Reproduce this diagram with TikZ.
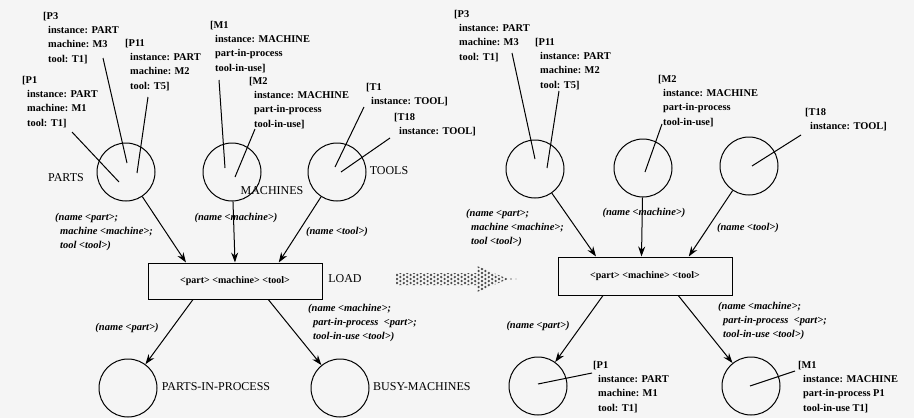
\documentclass[tikz,border=0pt]{standalone}
\usepackage{fontspec}
\setmainfont{Liberation Serif}
\usetikzlibrary{arrows.meta,calc}
\newcommand\ind{\hspace*{5pt}}

\begin{document}
\begin{tikzpicture}[x=1pt,y=-1pt,
	place/.style={draw,circle,line width=1pt,minimum size=58pt,inner sep=0pt},
	trans/.style={draw,rectangle,line width=1pt,minimum width=174pt,minimum height=36pt,font=\fontsize{10}{10}\selectfont\bfseries},
	tok/.style={anchor=north west,inner sep=0pt,align=left,font=\fontsize{10.4}{14.2}\selectfont\bfseries},
	inscr/.style={inner sep=0pt,align=left,font=\fontsize{10.5}{14}\selectfont\bfseries\itshape},
	pname/.style={inner sep=0pt,font=\fontsize{12}{12}\selectfont},
	arc/.style={line width=1pt,-{Stealth[length=10pt,width=7pt]}},
	ptr/.style={line width=1pt}]
		%%%%% START %%%%%
		\useasboundingbox (0,0) rectangle (914,418);
		\fill[black!4] (0,0) rectangle (914,418);
		
		%% first marking
		\node[place] (parts) at (126,172) {};
		\node[place] (machines) at (232,172) {};
		\node[place] (tools) at (337,172) {};
		\node[trans] (load) at (235,281) {<part> <machine> <tool>};
		\node[place] (pip) at (128,388) {};
		\node[place] (busy) at (340,388) {};
		
		\node[pname] (partsl) at (66,178) {PARTS};
		\node[pname] (machinesl) at (272,191) {MACHINES};
		\node[pname] (toolsl) at (389,171) {TOOLS};
		\node[pname] (loadl) at (345,279) {LOAD};
		\node[pname] (pipl) at (216,387) {PARTS-IN-PROCESS};
		\node[pname,anchor=west] (busyl) at (373,387) {BUSY-MACHINES};
		
		\node[tok] (p3) at (43,12) {[P3\\\ind instance: PART\\\ind machine: M3\\\ind tool: T1]};
		\node[tok] (p11) at (125,39) {[P11\\\ind instance: PART\\\ind machine: M2\\\ind tool: T5]};
		\node[tok] (p1) at (22,76) {[P1\\\ind instance: PART\\\ind machine: M1\\\ind tool: T1]};
		\node[tok] (m1) at (210,21) {[M1\\\ind instance: MACHINE\\\ind part-in-process\\\ind tool-in-use]};
		\node[tok] (m2) at (249,77) {[M2\\\ind instance: MACHINE\\\ind part-in-process\\\ind tool-in-use]};
		\node[tok] (t1) at (366,83) {[T1\\\ind instance: TOOL]};
		\node[tok] (t18) at (394,113) {[T18\\\ind instance: TOOL]};
		
		\coordinate (p3a) at (103,58);  \coordinate (p3b) at (127,163);
		\coordinate (p11a) at (148,97); \coordinate (p11b) at (137,173);
		\coordinate (p1a) at (72,132);  \coordinate (p1b) at (119,182);
		\coordinate (m1a) at (219,80);  \coordinate (m1b) at (225,168);
		\coordinate (m2a) at (255,129); \coordinate (m2b) at (235,177);
		\coordinate (t1a) at (364,107); \coordinate (t1b) at (335,167);
		\coordinate (t18a) at (390,138); \coordinate (t18b) at (341,172);
		\draw[ptr] (p3a) -- (p3b);
		\draw[ptr] (p11a) -- (p11b);
		\draw[ptr] (p1a) -- (p1b);
		\draw[ptr] (m1a) -- (m1b);
		\draw[ptr] (m2a) -- (m2b);
		\draw[ptr] (t1a) -- (t1b);
		\draw[ptr] (t18a) -- (t18b);
		
		\draw[arc] (parts) -- ($(load.north west)!0.22!(load.north east)$);
		\draw[arc] (machines) -- (load.north);
		\draw[arc] (tools) -- ($(load.north west)!0.75!(load.north east)$);
		\draw[arc] ($(load.south west)!0.26!(load.south east)$) -- (pip);
		\draw[arc] ($(load.south west)!0.69!(load.south east)$) -- (busy);
		
		\node[inscr,anchor=north west] (in1) at (55,213) {(name <part>;\\\ind machine <machine>;\\\ind tool <tool>)};
		\node[inscr] (in2) at (236,218) {(name <machine>)};
		\node[inscr] (in3) at (337,232) {(name <tool>)};
		\node[inscr] (in4) at (127,328) {(name <part>)};
		\node[inscr,anchor=north west] (in5) at (308,304) {(name <machine>;\\\ind part-in-process~~<part>;\\\ind tool-in-use <tool>)};
		
		%% firing
		\begin{scope}
			\clip (396,273) -- (477,273) -- (477,266) -- (508,279) -- (477,292) -- (477,285) -- (396,285) -- cycle;
			\foreach \i in {0,...,34}
				\foreach \j in {-4,...,4}
					\fill[black!70] ({397+\i*3.4},{279+\j*4+mod(\i,2)*2}) circle (1.3pt);
		\end{scope}
		\fill[black!50] (511,279) circle (0.9pt);
		\fill[black!40] (516,279) circle (0.7pt);
		
		%% second marking
		\node[place] (parts2) at (535,169) {};
		\node[place] (machines2) at (643,168) {};
		\node[place] (tools2) at (749,166) {};
		\node[trans,minimum height=38pt] (load2) at (645,276) {<part> <machine> <tool>};
		\node[place] (pip2) at (538,386) {};
		\node[place] (busy2) at (751,386) {};
		
		\node[tok] (p3r) at (454,10) {[P3\\\ind instance: PART\\\ind machine: M3\\\ind tool: T1]};
		\node[tok] (p11r) at (535,38) {[P11\\\ind instance: PART\\\ind machine: M2\\\ind tool: T5]};
		\node[tok] (m2r) at (658,75) {[M2\\\ind instance: MACHINE\\\ind part-in-process\\\ind tool-in-use]};
		\node[tok] (t18r) at (805,108) {[T18\\\ind instance: TOOL]};
		\node[tok] (p1r) at (593,361) {[P1\\\ind instance: PART\\\ind machine: M1\\\ind tool: T1]};
		\node[tok] (m1r) at (798,361) {[M1\\\ind instance: MACHINE\\\ind part-in-process P1\\\ind tool-in-use T1]};
		
		\coordinate (p3ra) at (512,53);  \coordinate (p3rb) at (535,159);
		\coordinate (p11ra) at (559,91); \coordinate (p11rb) at (547,168);
		\coordinate (m2ra) at (662,124); \coordinate (m2rb) at (645,172);
		\coordinate (t18ra) at (801,135); \coordinate (t18rb) at (752,166);
		\coordinate (p1ra) at (592,373); \coordinate (p1rb) at (538,384);
		\coordinate (m1ra) at (795,371); \coordinate (m1rb) at (750,386);
		\draw[ptr] (p3ra) -- (p3rb);
		\draw[ptr] (p11ra) -- (p11rb);
		\draw[ptr] (m2ra) -- (m2rb);
		\draw[ptr] (t18ra) -- (t18rb);
		\draw[ptr] (p1ra) -- (p1rb);
		\draw[ptr] (m1ra) -- (m1rb);
		
		\draw[arc] (parts2) -- ($(load2.north west)!0.22!(load2.north east)$);
		\draw[arc] (machines2) -- ($(load2.north west)!0.48!(load2.north east)$);
		\draw[arc] (tools2) -- ($(load2.north west)!0.75!(load2.north east)$);
		\draw[arc] ($(load2.south west)!0.26!(load2.south east)$) -- (pip2);
		\draw[arc] ($(load2.south west)!0.69!(load2.south east)$) -- (busy2);
		
		\node[inscr,anchor=north west] (in1r) at (466,209) {(name <part>;\\\ind machine <machine>;\\\ind tool <tool>)};
		\node[inscr] (in2r) at (644,213) {(name <machine>)};
		\node[inscr] (in3r) at (748,228) {(name <tool>)};
		\node[inscr] (in4r) at (538,326) {(name <part>)};
		\node[inscr,anchor=north west] (in5r) at (718,302) {(name <machine>;\\\ind part-in-process~~<part>;\\\ind tool-in-use <tool>)};
		
		%%%%% END %%%%%
	\end{tikzpicture}
\end{document}
